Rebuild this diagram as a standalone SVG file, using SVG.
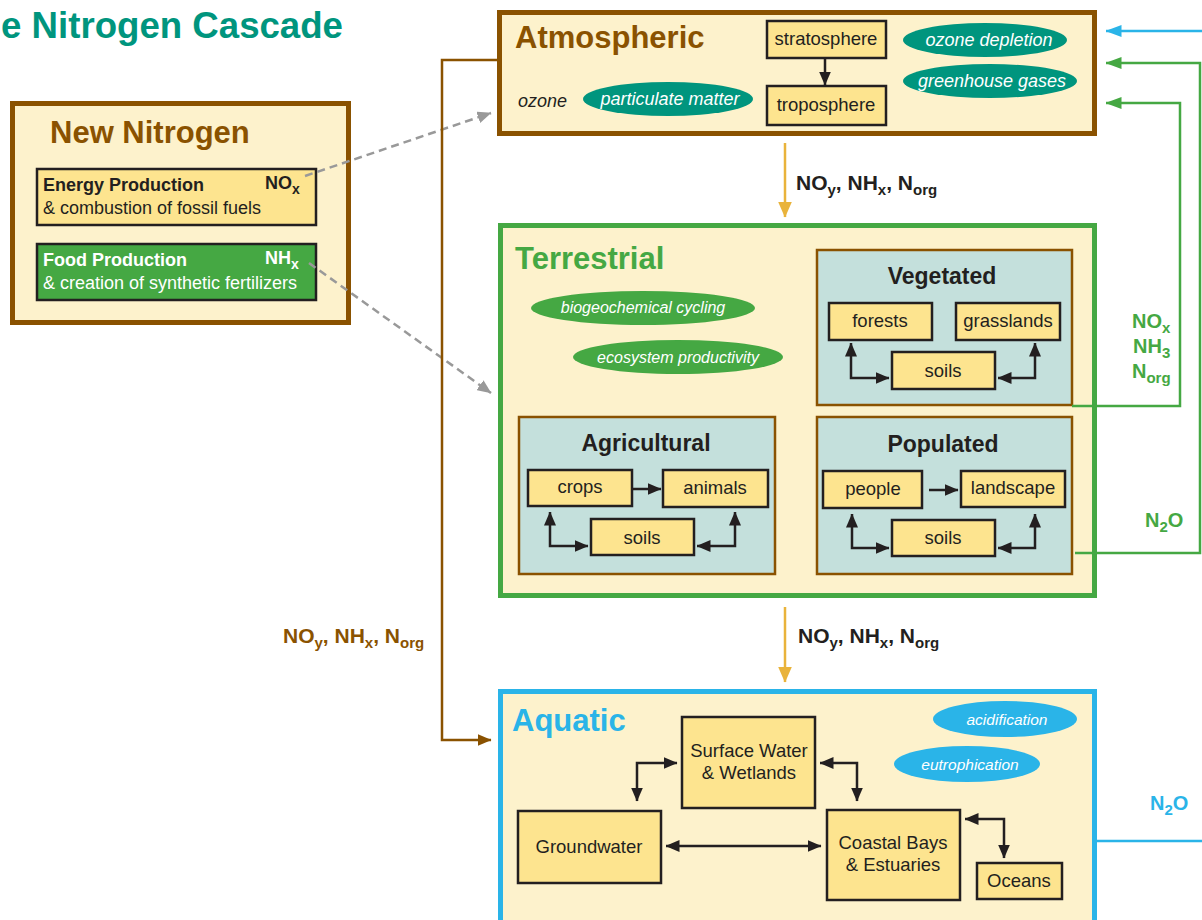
<svg xmlns="http://www.w3.org/2000/svg" width="1202" height="920" viewBox="0 0 1202 920">
<style>
text{font-family:"Liberation Sans",Arial,sans-serif;}
.big{font-size:31px;font-weight:bold;}
.sub{font-size:23px;font-weight:bold;fill:#231F20;text-anchor:middle;}
.body{font-size:18.5px;fill:#231F20;text-anchor:middle;}
.ell{font-size:16px;font-style:italic;fill:#fff;text-anchor:middle;}
.lbl{font-size:20px;font-weight:bold;}
.sm{stroke:#231F20;stroke-width:2.5;fill:#FDE48F;}
.panel{fill:#C4E0DC;stroke:#8A5200;stroke-width:2.5;}
.main{fill:#FDF2CC;stroke-width:5;}
.ka{fill:none;stroke:#231F20;stroke-width:2.5;}
</style>
<defs>
<marker id="ak" viewBox="0 0 14 12" refX="13.5" refY="6" markerWidth="14" markerHeight="12" orient="auto-start-reverse" markerUnits="userSpaceOnUse"><path d="M0,0 L14,6 L0,12 z" fill="#231F20"/></marker>
<marker id="ag" viewBox="0 0 14 12" refX="13.5" refY="6" markerWidth="14" markerHeight="12" orient="auto" markerUnits="userSpaceOnUse"><path d="M0,0 L14,6 L0,12 z" fill="#999"/></marker>
<marker id="ay" viewBox="0 0 16 14" refX="15.5" refY="7" markerWidth="16" markerHeight="14" orient="auto" markerUnits="userSpaceOnUse"><path d="M0,0 L16,7 L0,14 z" fill="#E9B33B"/></marker>
<marker id="ab" viewBox="0 0 14 12" refX="13.5" refY="6" markerWidth="14" markerHeight="12" orient="auto" markerUnits="userSpaceOnUse"><path d="M0,0 L14,6 L0,12 z" fill="#8A5200"/></marker>
<marker id="agr" viewBox="0 0 16 12" refX="15.5" refY="6" markerWidth="16" markerHeight="12" orient="auto" markerUnits="userSpaceOnUse"><path d="M0,0 L16,6 L0,12 z" fill="#45A843"/></marker>
<marker id="abl" viewBox="0 0 16 12" refX="15.5" refY="6" markerWidth="16" markerHeight="12" orient="auto" markerUnits="userSpaceOnUse"><path d="M0,0 L16,6 L0,12 z" fill="#2AB4E8"/></marker>
</defs>

<text id="title" x="1" y="38" textLength="342" lengthAdjust="spacingAndGlyphs" style="font-size:36px;font-weight:bold;fill:#00957E">e Nitrogen Cascade</text>

<g id="new-nitrogen">
  <rect class="main" x="12.5" y="103.5" width="336" height="219" stroke="#8A5200"/>
  <text class="big" x="50" y="143" fill="#8A5200">New Nitrogen</text>
  <g id="energy">
    <rect x="37" y="169" width="279" height="56" fill="#FDE48F" stroke="#231F20" stroke-width="2.5"/>
    <text x="43" y="191" style="font-size:18px;font-weight:bold;fill:#231F20">Energy Production</text>
    <text x="43" y="214" style="font-size:18px;fill:#231F20">&amp; combustion of fossil fuels</text>
    <text x="265" y="189" style="font-size:18px;font-weight:bold;fill:#231F20">NO<tspan font-size="14" dy="5">x</tspan></text>
  </g>
  <g id="food">
    <rect x="37" y="244" width="279" height="56" fill="#45A843" stroke="#231F20" stroke-width="2.5"/>
    <text x="43" y="266" style="font-size:18px;font-weight:bold;fill:#fff">Food Production</text>
    <text x="43" y="289" style="font-size:18px;fill:#fff">&amp; creation of synthetic fertilizers</text>
    <text x="265" y="264" style="font-size:18px;font-weight:bold;fill:#fff">NH<tspan font-size="14" dy="5">x</tspan></text>
  </g>
</g>

<g id="atmospheric">
  <rect class="main" x="499.5" y="12.5" width="595" height="121" stroke="#8A5200"/>
  <text class="big" x="515" y="48" fill="#8A5200">Atmospheric</text>
  <g id="stratosphere"><rect class="sm" x="767" y="21" width="119" height="37"/><text class="body" x="826" y="45">stratosphere</text></g>
  <g id="troposphere"><rect class="sm" x="767" y="86" width="119" height="39"/><text class="body" x="826" y="111">troposphere</text></g>
  <path class="ka" d="M825,58 V85" marker-end="url(#ak)"/>
  <text x="518" y="107" style="font-size:18px;font-style:italic;fill:#231F20">ozone</text>
  <ellipse cx="668" cy="99" rx="85" ry="17" fill="#00957E"/>
  <text class="ell" x="670" y="105" style="font-size:18px">particulate matter</text>
  <ellipse cx="985" cy="40" rx="82" ry="17" fill="#00957E"/>
  <text class="ell" x="989" y="46" style="font-size:18px">ozone depletion</text>
  <ellipse cx="990" cy="81" rx="87" ry="17" fill="#00957E"/>
  <text class="ell" x="992" y="87" style="font-size:18px">greenhouse gases</text>
</g>

<g id="terrestrial">
  <rect class="main" x="500.5" y="225.5" width="594" height="370" stroke="#45A843"/>
  <text class="big" x="515" y="269" fill="#45A843">Terrestrial</text>
  <ellipse cx="643" cy="308" rx="112" ry="17" fill="#45A843"/>
  <text class="ell" x="643" y="313">biogeochemical cycling</text>
  <ellipse cx="678" cy="357" rx="105" ry="17" fill="#45A843"/>
  <text class="ell" x="678" y="363">ecosystem productivity</text>

  <g id="vegetated">
    <rect class="panel" x="817" y="250" width="255" height="155"/>
    <text class="sub" x="942" y="284">Vegetated</text>
    <rect class="sm" x="829" y="303" width="103" height="37"/><text class="body" x="880" y="327">forests</text>
    <rect class="sm" x="956" y="303" width="104" height="37"/><text class="body" x="1008" y="327">grasslands</text>
    <rect class="sm" x="892" y="352" width="103" height="37"/><text class="body" x="943" y="377">soils</text>
    <path class="ka" d="M851,343 V378 H889" marker-start="url(#ak)" marker-end="url(#ak)"/>
    <path class="ka" d="M1035,343 V378 H998" marker-start="url(#ak)" marker-end="url(#ak)"/>
  </g>

  <g id="agricultural">
    <rect class="panel" x="519" y="417" width="256" height="157"/>
    <text class="sub" x="646" y="451">Agricultural</text>
    <rect class="sm" x="528" y="470" width="104" height="36"/><text class="body" x="580" y="493">crops</text>
    <rect class="sm" x="663" y="470" width="105" height="37"/><text class="body" x="715" y="494">animals</text>
    <rect class="sm" x="591" y="519" width="103" height="36"/><text class="body" x="642" y="544">soils</text>
    <path class="ka" d="M633,489 H661" marker-end="url(#ak)"/>
    <path class="ka" d="M550,512 V546 H588" marker-start="url(#ak)" marker-end="url(#ak)"/>
    <path class="ka" d="M735,512 V546 H697" marker-start="url(#ak)" marker-end="url(#ak)"/>
  </g>

  <g id="populated">
    <rect class="panel" x="817" y="417" width="255" height="157"/>
    <text class="sub" x="943" y="452">Populated</text>
    <rect class="sm" x="823" y="471" width="99" height="37"/><text class="body" x="873" y="495">people</text>
    <rect class="sm" x="961" y="471" width="104" height="36"/><text class="body" x="1013" y="494">landscape</text>
    <rect class="sm" x="892" y="520" width="103" height="36"/><text class="body" x="943" y="544">soils</text>
    <path class="ka" d="M929,490 H958" marker-end="url(#ak)"/>
    <path class="ka" d="M852,514 V548 H889" marker-start="url(#ak)" marker-end="url(#ak)"/>
    <path class="ka" d="M1035,514 V548 H998" marker-start="url(#ak)" marker-end="url(#ak)"/>
  </g>
</g>

<g id="aquatic">
  <rect class="main" x="500.5" y="691.5" width="594" height="240" stroke="#2AB4E8"/>
  <text class="big" x="512" y="731" fill="#2AB4E8">Aquatic</text>
  <ellipse cx="1005" cy="719" rx="72" ry="18" fill="#2AB4E8"/>
  <text class="ell" x="1007" y="725" style="font-size:15.5px">acidification</text>
  <ellipse cx="967" cy="764" rx="73" ry="18" fill="#2AB4E8"/>
  <text class="ell" x="970" y="770" style="font-size:15.5px">eutrophication</text>
  <g id="surface"><rect class="sm" x="682" y="717" width="133" height="91"/><text class="body" x="749" y="757">Surface Water</text><text class="body" x="749" y="779">&amp; Wetlands</text></g>
  <g id="groundwater"><rect class="sm" x="518" y="811" width="143" height="72"/><text class="body" x="589" y="853">Groundwater</text></g>
  <g id="coastal"><rect class="sm" x="827" y="810" width="133" height="90"/><text class="body" x="893" y="849">Coastal Bays</text><text class="body" x="893" y="871">&amp; Estuaries</text></g>
  <g id="oceans"><rect class="sm" x="977" y="863" width="85" height="36"/><text class="body" x="1019" y="887">Oceans</text></g>
  <path class="ka" d="M677,763 H637 V801" marker-start="url(#ak)" marker-end="url(#ak)"/>
  <path class="ka" d="M820,763 H857 V801" marker-start="url(#ak)" marker-end="url(#ak)"/>
  <path class="ka" d="M666,846 H821" marker-start="url(#ak)" marker-end="url(#ak)"/>
  <path class="ka" d="M965,819 H1004 V858" marker-start="url(#ak)" marker-end="url(#ak)"/>
</g>

<g id="connectors">
  <path d="M305,176 L491,113" fill="none" stroke="#999" stroke-width="2.5" stroke-dasharray="8,5" marker-end="url(#ag)"/>
  <path d="M309,263 L491,393" fill="none" stroke="#999" stroke-width="2.5" stroke-dasharray="8,5" marker-end="url(#ag)"/>
  <path d="M497,60 H442 V740 H491" fill="none" stroke="#8A5200" stroke-width="2.5" marker-end="url(#ab)"/>
  <path d="M785,143 V217" fill="none" stroke="#E9B33B" stroke-width="2.5" marker-end="url(#ay)"/>
  <path d="M785,607 V682" fill="none" stroke="#E9B33B" stroke-width="2.5" marker-end="url(#ay)"/>
  <path d="M1202,31 H1106" fill="none" stroke="#2AB4E8" stroke-width="2.5" marker-end="url(#abl)"/>
  <path d="M1075,553 H1200 V63 H1106" fill="none" stroke="#45A843" stroke-width="2.5" marker-end="url(#agr)"/>
  <path d="M1072,406 H1180 V103 H1106" fill="none" stroke="#45A843" stroke-width="2.5" marker-end="url(#agr)"/>
  <path d="M1097,841 H1202" fill="none" stroke="#2AB4E8" stroke-width="2.5"/>
</g>

<g id="labels">
  <text class="lbl" x="283" y="643" fill="#8A5200" style="font-size:21px">NO<tspan font-size="15" dy="5">y</tspan><tspan dy="-5">, NH</tspan><tspan font-size="15" dy="5">x</tspan><tspan dy="-5">, N</tspan><tspan font-size="15" dy="5">org</tspan></text>
  <text class="lbl" x="796" y="190" fill="#231F20" style="font-size:21px">NO<tspan font-size="15" dy="5">y</tspan><tspan dy="-5">, NH</tspan><tspan font-size="15" dy="5">x</tspan><tspan dy="-5">, N</tspan><tspan font-size="15" dy="5">org</tspan></text>
  <text class="lbl" x="798" y="643" fill="#231F20" style="font-size:21px">NO<tspan font-size="15" dy="5">y</tspan><tspan dy="-5">, NH</tspan><tspan font-size="15" dy="5">x</tspan><tspan dy="-5">, N</tspan><tspan font-size="15" dy="5">org</tspan></text>
  <text class="lbl" x="1132" y="328" fill="#45A843">NO<tspan font-size="15" dy="5">x</tspan></text>
  <text class="lbl" x="1133" y="353" fill="#45A843">NH<tspan font-size="15" dy="5">3</tspan></text>
  <text class="lbl" x="1132" y="378" fill="#45A843">N<tspan font-size="15" dy="5">org</tspan></text>
  <text class="lbl" x="1145" y="527" fill="#45A843">N<tspan font-size="15" dy="5">2</tspan><tspan dy="-5">O</tspan></text>
  <text class="lbl" x="1150" y="810" fill="#2AB4E8">N<tspan font-size="15" dy="5">2</tspan><tspan dy="-5">O</tspan></text>
</g>
</svg>
